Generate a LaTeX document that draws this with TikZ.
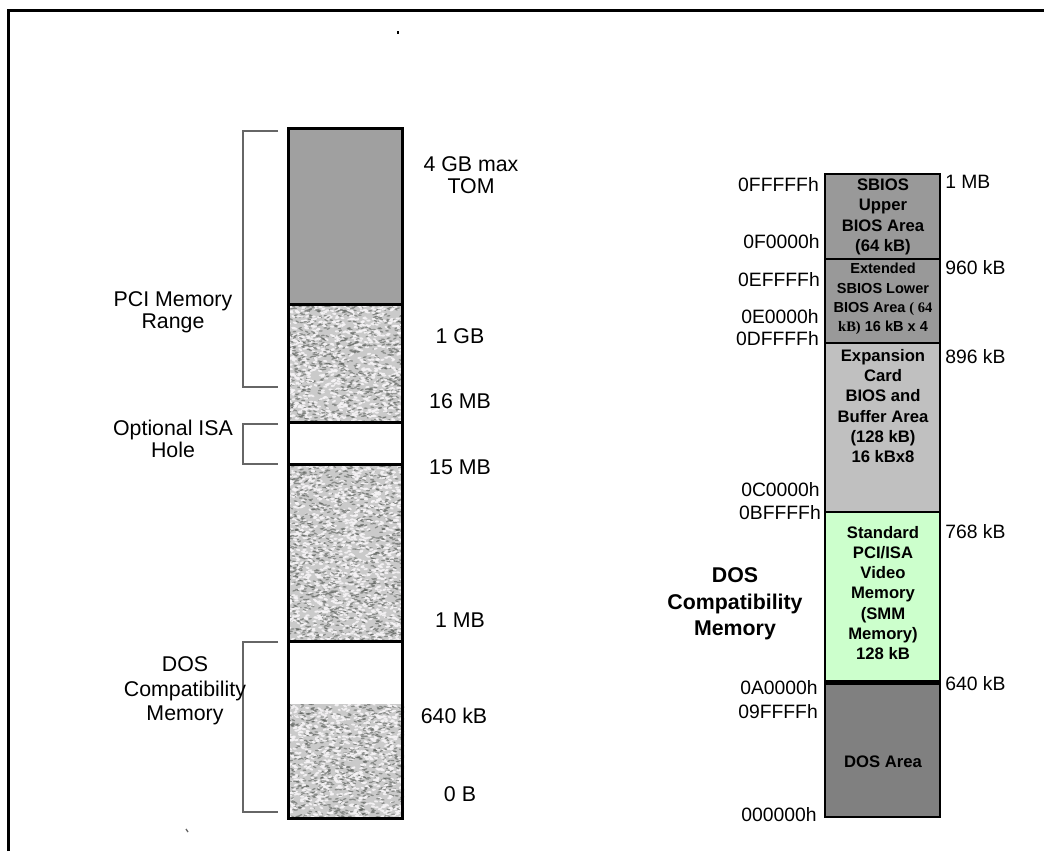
\documentclass[tikz,border=0pt]{standalone}
\usepackage{fontspec}
\setmainfont{Liberation Sans}
\newfontfamily\timesf{Liberation Serif}
\definecolor{topgray}{HTML}{A0A0A0}
\definecolor{sbiosgray}{HTML}{999999}
\definecolor{expgray}{HTML}{C0C0C0}
\definecolor{vgagreen}{HTML}{CCFFCC}
\definecolor{dosgray}{HTML}{808080}
\definecolor{texbase}{HTML}{CACACA}
\definecolor{texdark}{HTML}{5E625E}
\definecolor{texlight}{HTML}{F6F4F6}
\definecolor{brk}{HTML}{666666}
\newcommand\stucco[4]{%
  \begin{scope}
    \clip (#1,#2) rectangle (#3,#4);
    \fill[texbase] (#1,#2) rectangle (#3,#4);
    \pgfmathsetmacro\sw{#3-#1}%
    \pgfmathsetmacro\sh{#4-#2}%
    \pgfmathtruncatemacro\sn{\sw/18*\sh}%
    \foreach \i in {1,...,\sn}{%
      \pgfmathsetmacro\xx{#1+\sw*rnd}%
      \pgfmathsetmacro\yy{#2+\sh*rnd}%
      \pgfmathsetmacro\aa{-30+60*rnd}%
      \fill[texdark,opacity=0.6,rotate around={\aa:(\xx,\yy)}] (\xx,\yy) ellipse (1.5pt and 0.55pt);
      \pgfmathsetmacro\xx{#1+\sw*rnd}%
      \pgfmathsetmacro\yy{#2+\sh*rnd}%
      \fill[texlight,opacity=0.9,rotate around={\aa:(\xx,\yy)}] (\xx,\yy) ellipse (1.6pt and 0.8pt);
    }
  \end{scope}}
\begin{document}
\begin{tikzpicture}[x=0.75pt,y=-0.75pt,
  lbl/.style={font=\fontsize{16}{16.5}\selectfont,align=center,inner sep=0pt},
  addr/.style={font=\fontsize{14.5}{17}\selectfont,inner sep=0pt},
  boxtxt/.style={font=\bfseries\fontsize{12.5}{15.2}\selectfont,align=center,inner sep=0pt},
  smalltxt/.style={font=\bfseries\fontsize{10.9}{14.4}\selectfont,align=center,inner sep=0pt},
  bigbold/.style={font=\bfseries\fontsize{16}{20}\selectfont,align=center,inner sep=0pt},
  lcol/.style={line width=2.25pt},
  rbox/.style={draw=black,line width=1.9pt},
  bracket/.style={draw=brk,line width=1.1pt}]
\useasboundingbox (0,0) rectangle (1044,851);
\fill[white] (0,0) rectangle (1044,851);
\pgfmathsetseed{4242}
% frame
\draw[line width=2.25pt] (8,851) -- (8,10) -- (1044,10);
% stray marks
\draw[black,line width=0.8pt] (398,31) -- (398,34);
\draw[brk,line width=1pt] (186,829) -- (188,832);
% left column
\fill[topgray] (288,128) rectangle (402,304);
\stucco{288}{304}{402}{422}
\stucco{288}{464}{402}{641}
\stucco{288}{704}{404}{818}
\draw[lcol] (288,128) rectangle (402,818);
\draw[lcol] (288,304) -- (402,304);
\draw[lcol] (288,422) -- (402,422);
\draw[lcol] (288,464) -- (402,464);
\draw[lcol] (288,641) -- (402,641);
% brackets
\draw[bracket] (278,131) -- (243,131) -- (243,387) -- (278,387);
\draw[bracket] (278,424) -- (243,424) -- (243,464) -- (278,464);
\draw[bracket] (278,642) -- (243,642) -- (243,812) -- (278,812);
% left labels
\node[lbl] (pci) at (173,312) {PCI Memory\\Range};
\node[lbl] (isa) at (173,439) {Optional ISA\\Hole};
\node[lbl,font=\fontsize{16}{18.2}\selectfont] (dosl) at (185,691) {DOS\\Compatibility\\Memory};
\node[lbl] (tom) at (471,175) {4 GB max\\TOM};
\node[lbl] (g1) at (460,336) {1 GB};
\node[lbl] (m16) at (460,401) {16 MB};
\node[lbl] (m15) at (460,467) {15 MB};
\node[lbl] (m1) at (460,620) {1 MB};
\node[lbl] (k640) at (454,716) {640 kB};
\node[lbl] (b0) at (460,794) {0 B};
% right column
\filldraw[rbox,fill=sbiosgray] (825,174) rectangle (940,259);
\filldraw[rbox,fill=sbiosgray] (825,259) rectangle (940,343);
\filldraw[rbox,fill=expgray] (825,343) rectangle (940,512);
\filldraw[rbox,fill=vgagreen] (825,512) rectangle (940,682);
\filldraw[rbox,fill=dosgray] (825,682) rectangle (940,817);
\draw[line width=3.75pt] (825,682) -- (940,682);
\node[boxtxt] (sbios) at (883,217) {SBIOS\\Upper\\BIOS Area\\(64 kB)};
\node[smalltxt] (ext) at (883,299) {Extended\\SBIOS Lower\\BIOS Area {\timesf( 64}\\{\timesf kB)} 16 kB x 4};
\node[boxtxt] (expn) at (883,406) {Expansion\\Card\\BIOS and\\Buffer Area\\(128 kB)\\16 kBx8};
\node[boxtxt] (vga) at (883,593) {Standard\\PCI/ISA\\Video\\Memory\\(SMM\\Memory)\\128 kB};
\node[boxtxt] (dosa) at (883,762) {DOS Area};
\node[bigbold] (dosr) at (735,604) {DOS\\Compatibility\\Memory};
% addresses
\node[addr,anchor=east] (a1) at (819,185) {0FFFFFh};
\node[addr,anchor=east] (a2) at (820,242) {0F0000h};
\node[addr,anchor=east] (a3) at (820,280) {0EFFFFh};
\node[addr,anchor=east] (a4) at (819,317) {0E0000h};
\node[addr,anchor=east] (a5) at (819,339) {0DFFFFh};
\node[addr,anchor=east] (a6) at (820,490) {0C0000h};
\node[addr,anchor=east] (a7) at (821,513) {0BFFFFh};
\node[addr,anchor=east] (a8) at (818,688) {0A0000h};
\node[addr,anchor=east] (a9) at (818,712) {09FFFFh};
\node[addr,anchor=east] (a10) at (817,815) {000000h};
\node[addr,anchor=west] (s1) at (945,182) {1 MB};
\node[addr,anchor=west] (s2) at (945,268) {960 kB};
\node[addr,anchor=west] (s3) at (945,357) {896 kB};
\node[addr,anchor=west] (s4) at (945,532) {768 kB};
\node[addr,anchor=west] (s5) at (945,684) {640 kB};
\end{tikzpicture}
\end{document}
